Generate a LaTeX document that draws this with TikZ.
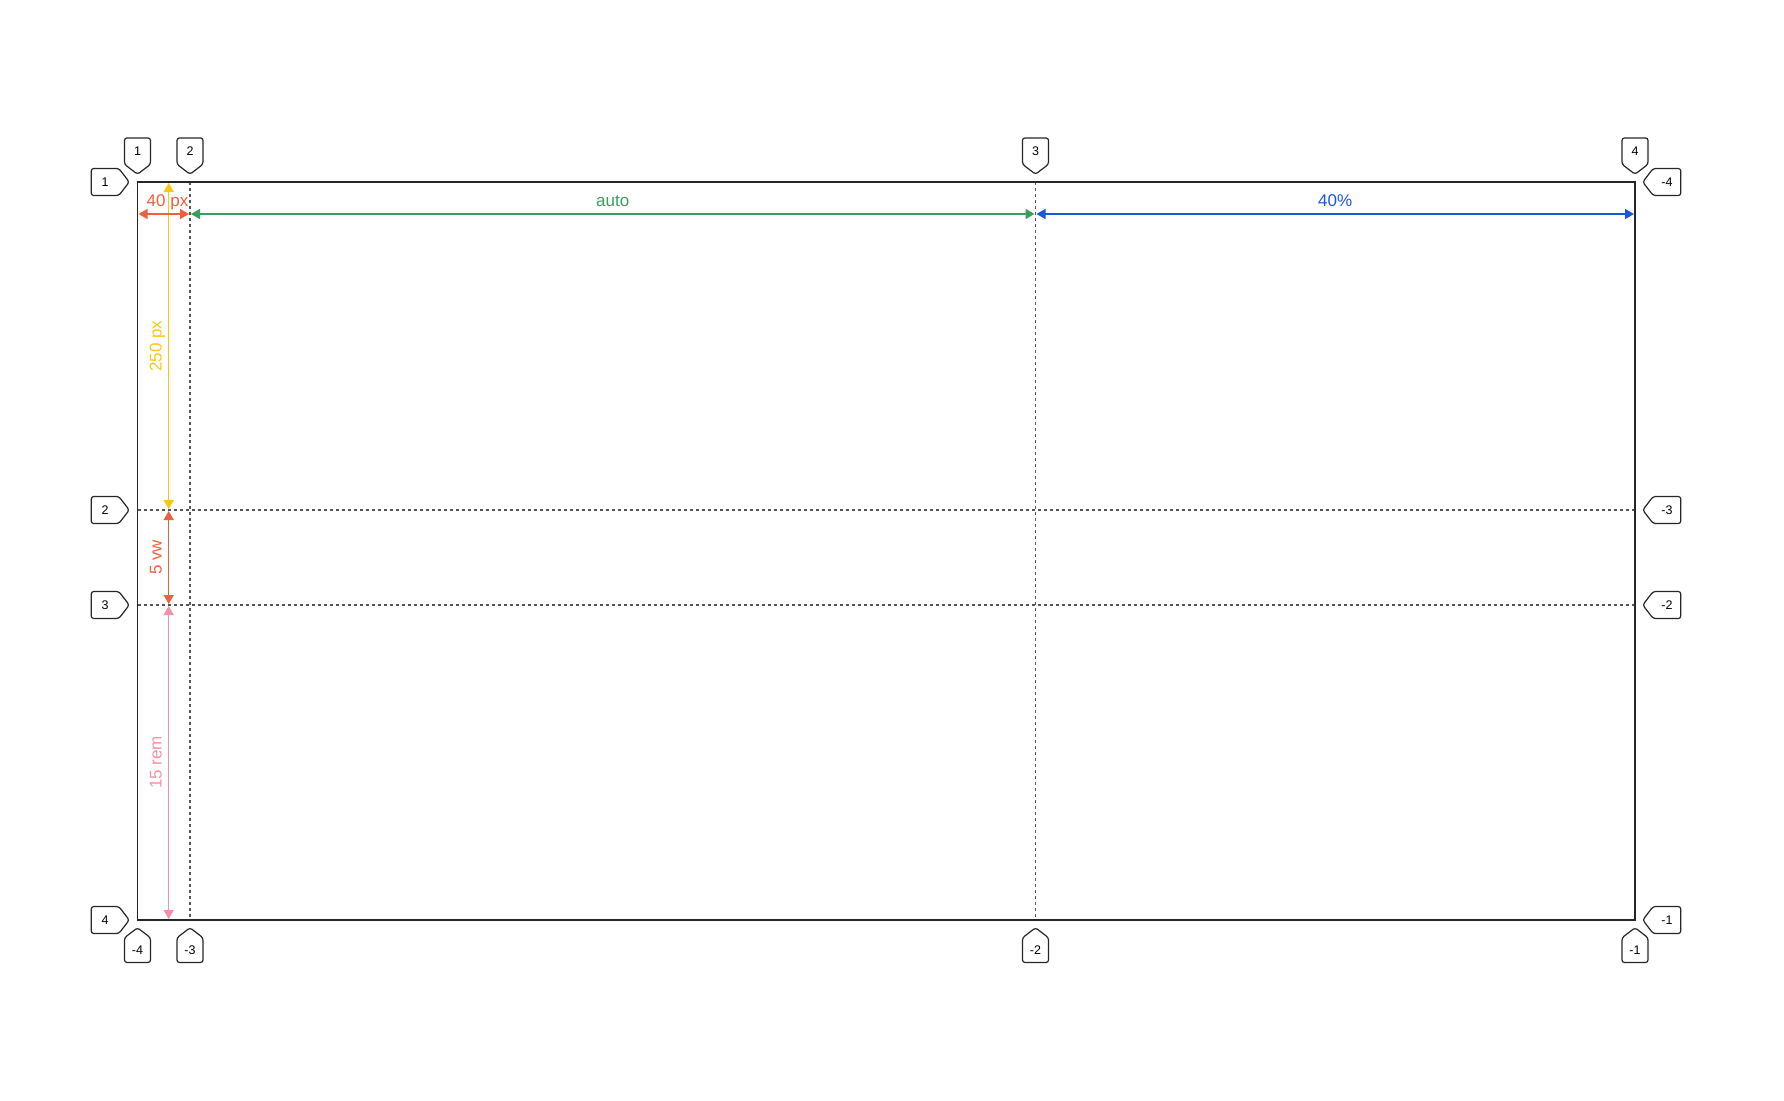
\documentclass[tikz,border=0pt]{standalone}
\usepackage{fontspec}
\setmainfont{Liberation Sans}
\usetikzlibrary{positioning,arrows.meta,shapes.symbols}
\definecolor{pxred}{HTML}{EE5F3D}
\definecolor{pxyellow}{HTML}{F9C80E}
\definecolor{rempink}{HTML}{F590A6}
\definecolor{autogreen}{HTML}{3A9D5D}
\definecolor{pctblue}{HTML}{1A56DB}
\definecolor{gridgray}{HTML}{555555}
\tikzset{linelabel/.style={draw=black!85,line width=1.2pt,shape=signal,signal pointer angle=105,rounded corners=2.5pt,inner sep=0pt,font=\fontsize{12.5}{12.5}\selectfont},
collabel/.style={linelabel,minimum width=26pt,minimum height=29pt},
rowlabel/.style={linelabel,minimum width=38pt,minimum height=27pt},
dimarr/.style={{Triangle[length=9pt,width=10pt]}-{Triangle[length=9pt,width=10pt]},line width=1.5pt,shorten <=1pt,shorten >=1pt},
dimtext/.style={font=\fontsize{17}{17}\selectfont,anchor=base,inner sep=0pt},
gridline/.style={gridgray,line width=1.1pt,dash pattern=on 3pt off 3pt}}

\begin{document}
\begin{tikzpicture}[x=1pt,y=-1pt]
\useasboundingbox (0,0) rectangle (1784,1100);
% grid corners and tracks
\coordinate (tl) at (137.5,182);
\coordinate (tr) at (1635,182);
\coordinate (bl) at (137.5,920);
\coordinate (br) at (1635,920);
\coordinate (c2t) at (190,182);
\coordinate (c2b) at (190,920);
\coordinate (c3t) at (1035.5,182);
\coordinate (c3b) at (1035.5,920);
\coordinate (r2l) at (137.5,510);
\coordinate (r2r) at (1635,510);
\coordinate (r3l) at (137.5,605);
\coordinate (r3r) at (1635,605);
\draw[gridline] (c2t) -- (c2b);
\draw[gridline] (c3t) -- (c3b);
\draw[gridline] (r2l) -- (r2r);
\draw[gridline] (r3l) -- (r3r);
\draw[black!85,line width=1.5pt] (tl) rectangle (br);
% line numbers
\foreach \x/\t/\b [count=\i] in {137.5/1/-4,190/2/-3,1035.5/3/-2,1635/4/-1} {
  \node[collabel,signal to=south,anchor=south] (top\i) at (\x,175) {\t};
  \node[collabel,signal to=north,anchor=north] (bot\i) at (\x,927) {\b};
}
\foreach \y/\l/\r [count=\i] in {182/1/-4,510/2/-3,605/3/-2,920/4/-1} {
  \node[rowlabel,signal to=east,anchor=east] (left\i) at (130,\y) {\l};
  \node[rowlabel,signal to=west,anchor=west] (right\i) at (1642,\y) {\r};
}
% track sizes
\coordinate (h1) at (137.5,214);
\coordinate (h2) at (190,214);
\coordinate (h3) at (1035.5,214);
\coordinate (h4) at (1635,214);
\coordinate (v1) at (168.7,182);
\coordinate (v2) at (168.7,510);
\coordinate (v3) at (168.7,605);
\coordinate (v4) at (168.7,920);
\node[dimtext,text=pxred] (px40) at (167.5,206) {40 px};
\draw[dimarr,autogreen] (h2) -- (h3);
\draw[dimarr,pctblue] (h3) -- (h4);
\draw[dimarr,pxyellow] (v1) -- (v2);
\draw[dimarr,pxred] (v2) -- (v3);
\draw[dimarr,rempink] (v3) -- (v4);
\draw[dimarr,pxred] (h1) -- (h2);
\node[dimtext,text=autogreen] (auto) at (612.7,206) {auto};
\node[dimtext,text=pctblue] (pct40) at (1335.2,206) {40\%};
\node[dimtext,text=pxyellow,rotate=90] (px250) at (161.7,346) {250 px};
\node[dimtext,text=pxred,rotate=90] (vw5) at (161.7,557.5) {5 vw};
\node[dimtext,text=rempink,rotate=90] (rem15) at (161.7,762.5) {15 rem};
\end{tikzpicture}
\end{document}
